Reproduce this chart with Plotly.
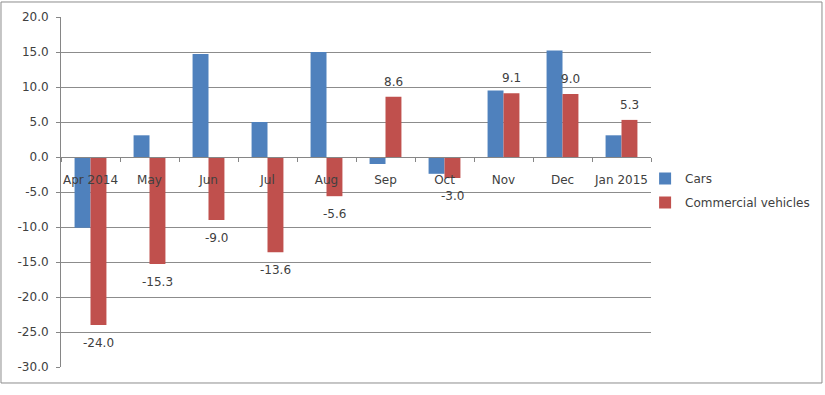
import plotly.graph_objects as go

months = ["Apr 2014", "May", "Jun", "Jul", "Aug", "Sep", "Oct", "Nov", "Dec", "Jan 2015"]
cars = [-10.1, 3.1, 14.7, 5.0, 15.0, -1.0, -2.4, 9.5, 15.2, 3.1]
commercial = [-24.0, -15.3, -9.0, -13.6, -5.6, 8.6, -3.0, 9.1, 9.0, 5.3]
y_ticks = [20, 15, 10, 5, 0, -5, -10, -15, -20, -25, -30]

FONT = "DejaVu Sans"
TXT = "#404040"
FS = 12

fig = go.Figure()
fig.add_trace(go.Bar(
    x=months, y=cars, name="Cars", marker=dict(color="#4F81BD", line=dict(width=0)),
    legendgroup="a",
))
fig.add_trace(go.Bar(
    x=months, y=commercial, name="Commercial vehicles",
    marker=dict(color="#C0504D", line=dict(width=0)),
    legendgroup="b",
))

# data labels for commercial vehicles
for m, v in zip(months, commercial):
    fig.add_annotation(
        x=m, y=v, xref="x", yref="y", text=f"{v:.1f}", showarrow=False,
        xshift=8, yshift=15 if v >= 0 else -18, yanchor="middle",
        font=dict(family=FONT, size=FS, color=TXT),
    )

# outer chart border
fig.add_shape(type="rect", xref="paper", yref="paper",
              x0=-0.1017, x1=1.2898, y0=-0.0457, y1=1.0429,
              line=dict(color="#8c8c8c", width=1), layer="below")

fig.update_layout(
    width=825, height=395,
    margin=dict(l=61, r=174, t=17, b=28, autoexpand=False),
    paper_bgcolor="white", plot_bgcolor="white",
    barmode="group", bargap=0.46, bargroupgap=0,
    font=dict(family=FONT, size=FS, color=TXT),
    showlegend=True,
    legend=dict(x=0.99, y=0.58, xanchor="left", yanchor="top",
                traceorder="grouped", tracegroupgap=5,
                font=dict(family=FONT, size=FS, color=TXT),
                bgcolor="rgba(0,0,0,0)"),
    xaxis=dict(
        anchor="free", position=0.6, showline=True, linecolor="#868686", linewidth=1,
        ticks="outside", tickson="boundaries", ticklen=4, tickcolor="#868686",
        showgrid=False, tickangle=0, ticklabelstandoff=12,
        tickfont=dict(family=FONT, size=FS, color=TXT),
        zeroline=False,
    ),
    yaxis=dict(
        range=[-30, 20], tickvals=y_ticks, ticktext=[f"{v:.1f}" for v in y_ticks],
        showgrid=True, gridcolor="#8c8c8c", gridwidth=1,
        zeroline=False, showline=True, linecolor="#868686", linewidth=1,
        ticks="outside", ticklen=4, tickcolor="#868686", ticklabelstandoff=5,
        tickfont=dict(family=FONT, size=FS, color=TXT),
    ),
)

fig.write_html("out.html", config={"displayModeBar": False},
               post_script="document.body.style.margin='0';")
